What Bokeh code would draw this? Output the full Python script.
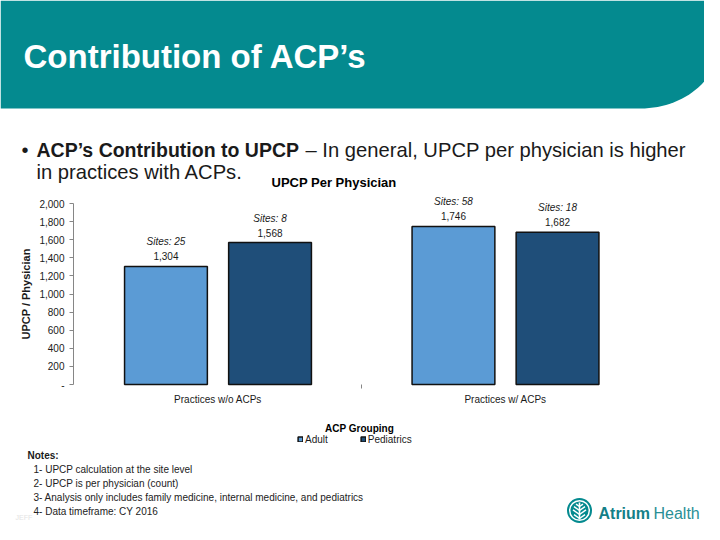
import numpy as np
from bokeh.plotting import figure
from bokeh.models import (ColumnDataSource, Range1d, FixedTicker, Label, LabelSet,
                          Legend, LegendItem, LinearAxis)
from bokeh.core.properties import value
from bokeh.embed import file_html
from bokeh.resources import INLINE

# ---------------- data ----------------
groups = ["Practices w/o ACPs", "Practices w/ ACPs"]
series = ["Adult", "Pediatrics"]
adult_upcp = [1304, 1746]
pediatrics_upcp = [1568, 1682]
adult_sites = [25, 58]
pediatrics_sites = [8, 18]
y_ticks = [0, 200, 400, 600, 800, 1000, 1200, 1400, 1600, 1800, 2000]
notes = [
    "1- UPCP calculation at the site level",
    "2- UPCP is per physician (count)",
    "3- Analysis only includes family medicine, internal medicine, and pediatrics",
    "4- Data timeframe: CY 2016",
]

# ---------------- styles / page geometry ----------------
FONT = "Liberation Sans"
TEAL = "#048A8F"
ADULT = "#5B9BD5"
PEDS = "#1F4E79"
TXT = "#1a1a1a"
W, H = 704, 524
# chart plot area on the slide (px): axis at x=73, baseline y=384, 2,000 at y=203
AX_X, BASE_Y, TOP_Y = 73, 384, 203
CAT0_X, CAT_STEP = 217.5, 287.5        # centre of first category, px per category
UNIT = (BASE_Y - TOP_Y) / 2000.0       # px per UPCP

p = figure(width=W, height=H,
           x_range=Range1d(0, W), y_range=Range1d(H, 0),      # slide pixel space for decorations
           x_axis_type=None, y_axis_type=None, min_border=0,
           output_backend="svg", toolbar_location=None)
p.extra_x_ranges = {"cat": Range1d((0 - CAT0_X) / CAT_STEP, (W - CAT0_X) / CAT_STEP)}
p.extra_y_ranges = {"upcp": Range1d((BASE_Y - H) / UNIT, BASE_Y / UNIT)}
p.outline_line_color = None
p.grid.visible = False
p.background_fill_color = "white"
p.border_fill_color = "white"


def text(X, Y, s, size, style="normal", color=TXT, align="left"):
    p.add_layout(Label(x=X, y=Y, text=s, text_font=FONT, text_font_size=f"{size}px",
                       text_font_style=style, text_color=color, text_align=align,
                       text_baseline="middle"))


# ---------------- header ----------------
t = np.linspace(0, np.pi / 2, 30)
hx = [0, 720] + list(640 + 80 * np.cos(t)) + [0]
hy = [0, 0] + list(40 + 68 * np.sin(t)) + [108]
p.patch(hx, hy, fill_color=TEAL, line_color=None)
text(23, 56, "Contribution of ACP\u2019s", 33, "bold", "white")
text(21, 149, "\u2022", 20)
text(36, 149, "ACP\u2019s Contribution to UPCP", 19.5, "bold")
text(305, 149, "\u2013 In general, UPCP per physician is higher", 20.2)
text(36, 171, "in practices with ACPs.", 20.2)
text(333.5, 182, "UPCP Per Physician", 13, "bold", "black", "center")

# ---------------- chart ----------------
pos = list(range(len(groups)))
OFF, BW = 0.181, 0.288
src_adult = ColumnDataSource(dict(x=[i - OFF for i in pos], upcp=adult_upcp,
                                  vlabel=[f"{v:,}" for v in adult_upcp],
                                  slabel=[f"Sites: {s}" for s in adult_sites]))
src_peds = ColumnDataSource(dict(x=[i + OFF for i in pos], upcp=pediatrics_upcp,
                                 vlabel=[f"{v:,}" for v in pediatrics_upcp],
                                 slabel=[f"Sites: {s}" for s in pediatrics_sites]))
r_adult = p.vbar(x="x", top="upcp", bottom=0, width=BW, source=src_adult,
                 x_range_name="cat", y_range_name="upcp",
                 fill_color=ADULT, line_color="#111111", line_width=1.5)
r_peds = p.vbar(x="x", top="upcp", bottom=0, width=BW, source=src_peds,
                x_range_name="cat", y_range_name="upcp",
                fill_color=PEDS, line_color="#111111", line_width=1.5)

for src in (src_adult, src_peds):
    p.add_layout(LabelSet(x="x", y="upcp", text="vlabel", source=src,
                          x_range_name="cat", y_range_name="upcp",
                          y_offset=6, text_align="center", text_baseline="alphabetic",
                          text_font=value(FONT), text_font_size="10px", text_color=TXT))
    p.add_layout(LabelSet(x="x", y="upcp", text="slabel", source=src,
                          x_range_name="cat", y_range_name="upcp",
                          y_offset=21, text_align="center", text_baseline="alphabetic",
                          text_font=value(FONT), text_font_size="10px", text_font_style="italic",
                          text_color=TXT))

ya = LinearAxis(y_range_name="upcp", fixed_location=AX_X,
                ticker=FixedTicker(ticks=y_ticks), bounds=(y_ticks[0], y_ticks[-1]))
ya.major_label_overrides = {t: ("-" if t == 0 else f"{t:,}") for t in y_ticks}
ya.axis_line_color = "#868686"
ya.major_tick_line_color = "#868686"
ya.minor_tick_line_color = None
ya.major_tick_out = 4
ya.major_tick_in = 0
ya.major_label_standoff = 5
ya.major_label_text_font = FONT
ya.major_label_text_font_size = "10px"
ya.major_label_text_color = TXT
ya.axis_label = "UPCP / Physician"
ya.axis_label_text_font = FONT
ya.axis_label_text_font_size = "11px"
ya.axis_label_text_font_style = "bold"
ya.axis_label_text_color = TXT
ya.axis_label_standoff = 4
p.add_layout(ya, "left")

xa = LinearAxis(x_range_name="cat", y_range_name="upcp", fixed_location=0,
                ticker=FixedTicker(ticks=pos, minor_ticks=[0.5]))
xa.major_label_overrides = {i: g for i, g in zip(pos, groups)}
xa.axis_line_color = None
xa.major_tick_line_color = None
xa.major_tick_out = 0
xa.major_tick_in = 0
xa.minor_tick_line_color = "#868686"
xa.minor_tick_out = 4
xa.minor_tick_in = 0
xa.major_label_standoff = 5
xa.major_label_text_font = FONT
xa.major_label_text_font_size = "10px"
xa.major_label_text_color = TXT
p.add_layout(xa, "below")

# legend
legend = Legend(items=[LegendItem(label=series[0], renderers=[r_adult]),
                       LegendItem(label=series[1], renderers=[r_peds])],
                orientation="horizontal", location=(297, H - 445),
                glyph_width=6, glyph_height=6, label_standoff=2, spacing=32,
                padding=0, margin=0, label_height=12, label_width=10,
                label_text_font=FONT, label_text_font_size="10px", label_text_color=TXT,
                border_line_color=None, background_fill_alpha=0)
p.add_layout(legend)
text(359, 428, "ACP Grouping", 10, "bold", "black", "center")

# ---------------- notes ----------------
text(27, 455, "Notes:", 10, "bold")
for i, n in enumerate(notes):
    text(33, 469 + 14 * i, n, 10, "normal", "#222222")
text(15, 517, "JEFF", 7, "normal", "#e4e4e4")

# ---------------- logo ----------------
cx, cy = 579, 510
p.circle(x=[cx], y=[cy], radius=12.5, fill_color=TEAL, line_color=None)
p.circle(x=[cx], y=[cy], radius=9.8, fill_alpha=0, line_color="white", line_width=1.5)
p.segment(x0=[cx], y0=[cy - 8], x1=[cx], y1=[cy + 9], line_color="white", line_width=1.6)
vx, vy = [], []
for yc, w in ((cy - 4, 3.5), (cy, 5.5), (cy + 4, 6.5), (cy + 8, 5.5)):
    vx.append([cx - w, cx, cx + w])
    vy.append([yc - w * 0.7, yc, yc - w * 0.7])
p.multi_line(xs=vx, ys=vy, line_color="white", line_width=1.5)
text(598, 513, "Atrium", 16, "bold", "#137F88")
text(653, 513, "Health", 16, "normal", "#2A8F96")

open("out.html", "w").write(file_html(p, INLINE))
